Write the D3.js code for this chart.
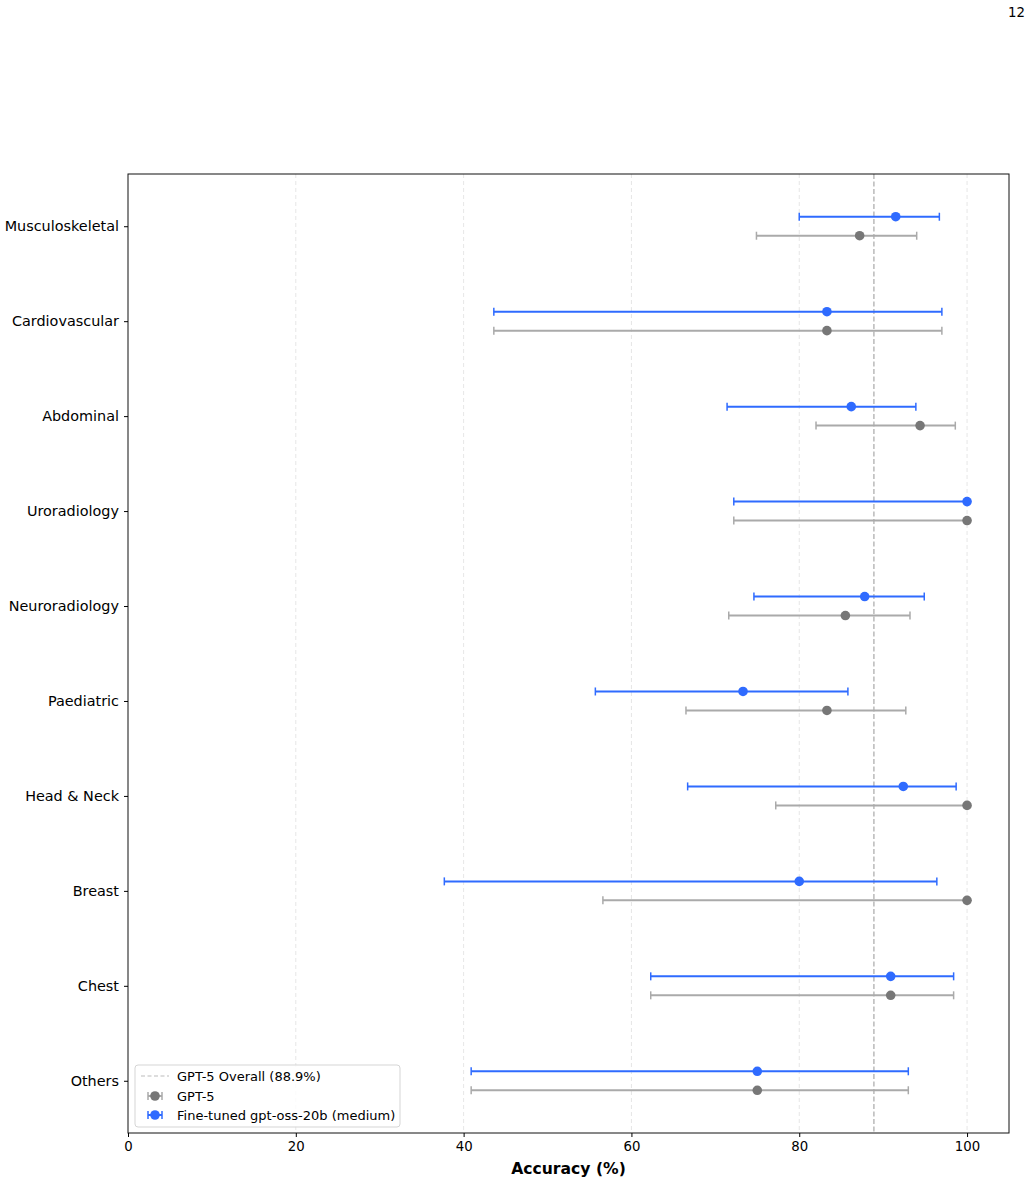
<!DOCTYPE html>
<html><head><meta charset="utf-8">
<script src="https://cdn.jsdelivr.net/npm/d3@7"></script>
<style>body{margin:0;background:#fff;font-family:"DejaVu Sans",sans-serif}</style>
</head><body><div id="chart"></div>
<script>
const categories = ["Musculoskeletal","Cardiovascular","Abdominal","Uroradiology","Neuroradiology","Paediatric","Head & Neck","Breast","Chest","Others"];
const gptVal  = [87.2, 83.3, 94.4, 100, 85.5, 83.3, 100, 100, 90.9, 75.0];
const gptLo   = [74.9, 43.6, 82.0, 72.2, 71.6, 66.5, 77.2, 56.6, 62.3, 40.9];
const gptHi   = [94.0, 97.0, 98.6, 100, 93.2, 92.7, 100, 100, 98.4, 93.0];
const ftVal   = [91.5, 83.3, 86.2, 100, 87.8, 73.3, 92.4, 80.0, 90.9, 75.0];
const ftLo    = [80.0, 43.6, 71.4, 72.2, 74.6, 55.7, 66.7, 37.7, 62.3, 40.9];
const ftHi    = [96.7, 97.0, 93.9, 100, 94.9, 85.8, 98.7, 96.4, 98.4, 93.0];
const overall = 88.9;
const xTicks = [0,20,40,60,80,100];
const seriesNames = ["GPT-5","Fine-tuned gpt-oss-20b (medium)"];
const overallLabel = "GPT-5 Overall (88.9%)";

const W=1029,H=1183;
const m={l:128,r:20,t:174,b:50};
const svg=d3.select("#chart").append("svg").attr("width",W).attr("height",H);
const x=d3.scaleLinear().domain([0,105]).range([m.l,W-m.r]);
const y=d3.scaleLinear().domain([-0.55,categories.length-1+0.55]).range([m.t,H-m.b]);
const off=0.1;
const BLUE="#2f6bff", GL="#aaaaaa", GM="#777777";

// grid
svg.append("g").selectAll("line").data(xTicks.filter(d=>d>0)).join("line")
 .attr("x1",d=>x(d)).attr("x2",d=>x(d)).attr("y1",m.t).attr("y2",H-m.b)
 .attr("stroke","#e3e3e3").attr("stroke-dasharray","4,3").attr("stroke-width",0.9);

// overall line
svg.append("line").attr("x1",x(overall)).attr("x2",x(overall)).attr("y1",m.t).attr("y2",H-m.b)
 .attr("stroke","#a8a8a8").attr("stroke-dasharray","5,2.5").attr("stroke-width",1.2);

function drawSeries(vals,lo,hi,dy,lc,mc){
  const g=svg.append("g");
  categories.forEach((c,i)=>{
    const yy=y(i)+dy;
    g.append("line").attr("x1",x(lo[i])).attr("x2",x(hi[i])).attr("y1",yy).attr("y2",yy).attr("stroke",lc).attr("stroke-width",2);
    [lo[i],hi[i]].forEach(v=>g.append("line").attr("x1",x(v)).attr("x2",x(v)).attr("y1",yy-4).attr("y2",yy+4).attr("stroke",lc).attr("stroke-width",1.5));
    g.append("circle").attr("cx",x(vals[i])).attr("cy",yy).attr("r",4.8).attr("fill",mc);
  });
}
drawSeries(gptVal,gptLo,gptHi,y(off)-y(0),GL,GM);
drawSeries(ftVal,ftLo,ftHi,y(-off)-y(0),BLUE,BLUE);

// frame
svg.append("rect").attr("x",m.l).attr("y",m.t).attr("width",W-m.r-m.l).attr("height",H-m.b-m.t)
 .attr("fill","none").attr("stroke","#111").attr("stroke-width",1);

// axes
const xa=svg.append("g").attr("transform",`translate(0,${H-m.b})`)
 .call(d3.axisBottom(x).tickValues(xTicks).tickSize(4).tickPadding(5));
xa.select(".domain").remove();
xa.selectAll("text").attr("font-size",13.3).attr("font-family","DejaVu Sans").attr("fill","#000");
const ya=svg.append("g").attr("transform",`translate(${m.l},0)`)
 .call(d3.axisLeft(y).tickValues(d3.range(categories.length)).tickFormat(i=>categories[i]).tickSize(4).tickPadding(5));
ya.select(".domain").remove();
ya.selectAll("text").attr("font-size",14.4).attr("font-family","DejaVu Sans").attr("fill","#000");

svg.append("text").attr("x",(x(0)+x(105))/2).attr("y",1174).attr("text-anchor","middle")
 .attr("font-size",15.6).attr("font-weight","bold").text("Accuracy (%)");

svg.append("text").attr("x",1025).attr("y",17).attr("text-anchor","end").attr("font-size",13.3).text("12");

// legend
const lg=svg.append("g").attr("transform","translate(135,1065)");
lg.append("rect").attr("width",265).attr("height",62).attr("rx",3).attr("fill","#fff").attr("fill-opacity",0.8).attr("stroke","#d5d5d5");
lg.append("line").attr("x1",6).attr("x2",34).attr("y1",11).attr("y2",11).attr("stroke","#bbb").attr("stroke-dasharray","4,2.5").attr("stroke-width",1.2);
lg.append("text").attr("x",42).attr("y",16).attr("font-size",13).text(overallLabel);
[[GL,GM,31],[BLUE,BLUE,50]].forEach(([lc,mc,yy],k)=>{
  lg.append("line").attr("x1",13).attr("x2",27).attr("y1",yy).attr("y2",yy).attr("stroke",lc).attr("stroke-width",2);
  [13,27].forEach(xx=>lg.append("line").attr("x1",xx).attr("x2",xx).attr("y1",yy-4).attr("y2",yy+4).attr("stroke",lc).attr("stroke-width",1.5));
  lg.append("circle").attr("cx",20).attr("cy",yy).attr("r",4.8).attr("fill",mc);
  lg.append("text").attr("x",42).attr("y",yy+5).attr("font-size",13).text(seriesNames[k]);
});
</script></body></html>
